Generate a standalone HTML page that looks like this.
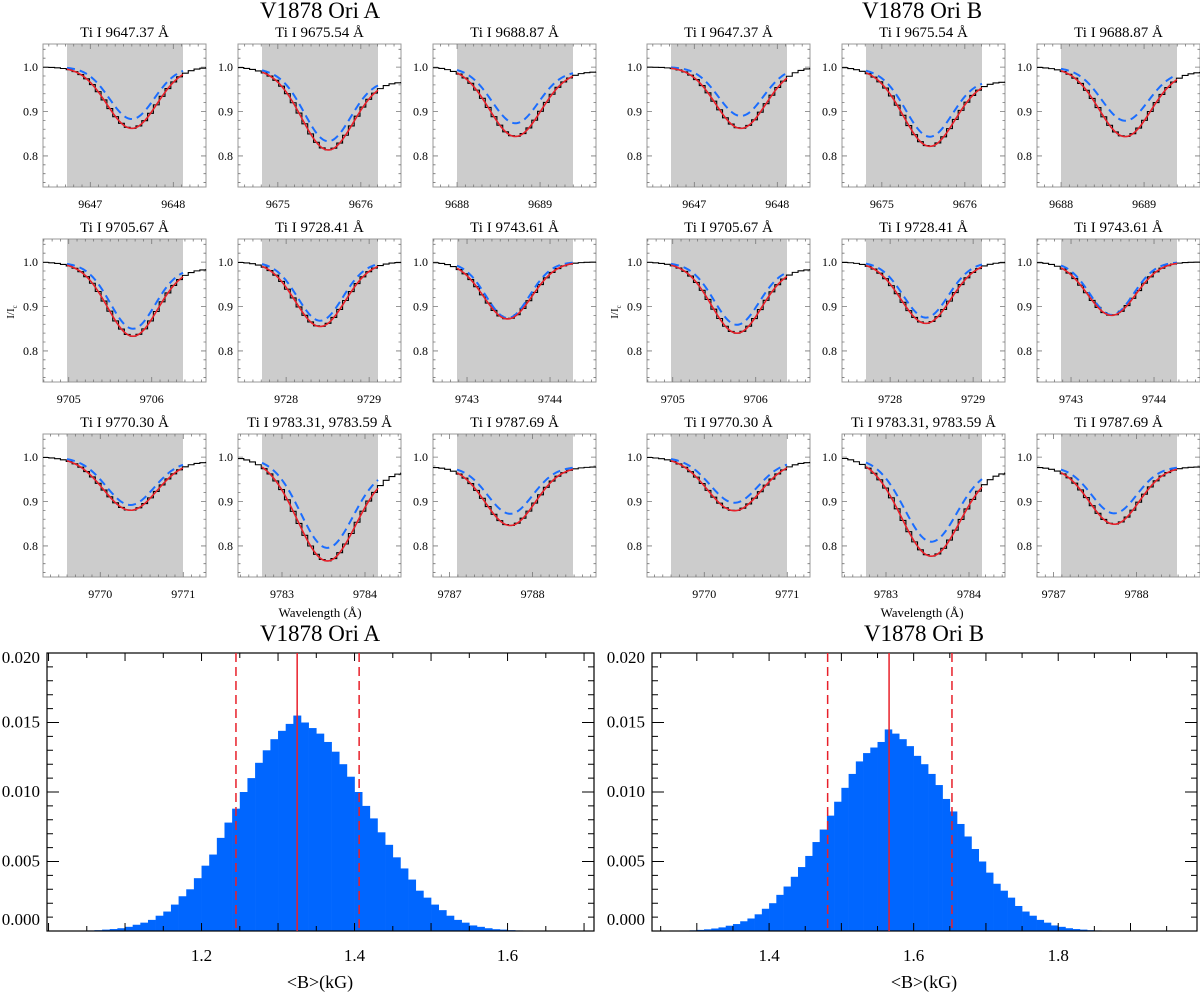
<!DOCTYPE html>
<html><head><meta charset="utf-8"><style>
html,body{margin:0;padding:0;background:#fff}
svg{display:block;font-family:"Liberation Serif",serif}
text{font-family:"Liberation Serif",serif}
</style></head><body>
<svg id="fig" width="1200" height="996" viewBox="0 0 1200 996" xmlns="http://www.w3.org/2000/svg" font-family="Liberation Serif, serif">
<text x="320" y="18" font-size="23" text-anchor="middle">V1878 Ori A</text>
<text x="922" y="18" font-size="23" text-anchor="middle">V1878 Ori B</text>
<text transform="translate(14,312) rotate(-90)" font-size="11" text-anchor="middle">I/I<tspan font-size="7" dy="3">c</tspan></text>
<text transform="translate(618,312) rotate(-90)" font-size="11" text-anchor="middle">I/I<tspan font-size="7" dy="3">c</tspan></text>
<text x="320" y="617" font-size="13" text-anchor="middle">Wavelength (Å)</text>
<text x="922" y="617" font-size="13" text-anchor="middle">Wavelength (Å)</text>
<text x="320" y="641" font-size="23" text-anchor="middle">V1878 Ori A</text>
<text x="924" y="641" font-size="23" text-anchor="middle">V1878 Ori B</text>
<text x="320" y="988" font-size="18" text-anchor="middle">&lt;B&gt;(kG)</text>
<text x="924" y="988" font-size="18" text-anchor="middle">&lt;B&gt;(kG)</text>
</svg>
<script>
// ---- line profile data ----
const lineTitles = ["Ti I 9647.37 Å","Ti I 9675.54 Å","Ti I 9688.87 Å","Ti I 9705.67 Å","Ti I 9728.41 Å","Ti I 9743.61 Å","Ti I 9770.30 Å","Ti I 9783.31, 9783.59 Å","Ti I 9787.69 Å"];
const windowStart = [9646.43,9674.52,9687.71,9704.69,9727.42,9742.59,9769.31,9782.47,9786.80];
const tickLabels = [[9647,9648],[9675,9676],[9688,9689],[9705,9706],[9728,9729],[9743,9744],[9770,9771],[9783,9784],[9787,9788]];
const lineWidth = [0.30,0.31,0.31,0.30,0.30,0.29,0.32,0.35,0.30];
const centerA = [9647.50,9675.60,9688.70,9705.77,9728.41,9743.49,9770.36,9783.54,9787.73];
const centerB = [9647.56,9675.57,9688.77,9705.77,9728.43,9743.49,9770.36,9783.54,9787.73];
const redMinA = [0.862,0.828,0.848,0.840,0.855,0.872,0.885,0.778,0.865];
const blueMinA = [0.883,0.848,0.878,0.857,0.868,0.874,0.897,0.808,0.892];
const redMinB = [0.862,0.836,0.848,0.847,0.862,0.880,0.884,0.789,0.868];
const blueMinB = [0.890,0.858,0.884,0.866,0.875,0.881,0.902,0.822,0.893];
const contLeft = [1.0,1.0,1.0,1.0,1.0,1.0,1.0,1.0,0.978];
const contRight = [1.0,0.968,0.99,0.985,1.0,1.0,0.99,0.972,0.978];
// ---- histogram data ----
const binStartA = 1.05;
const histA = [.00004,.00006,.0001,.00014,.0002,.0003,.00045,.0006,.0008,.0011,.0014,.0019,.0025,.0030,.0038,.0047,.0055,.0067,.0078,.0088,.0100,.0110,.0121,.0130,.0138,.0144,.0149,.0155,.0150,.0146,.0142,.0136,.0129,.0120,.0111,.0100,.0090,.0081,.0071,.0062,.0053,.0045,.0037,.0029,.0024,.0019,.0015,.0011,.0008,.0006,.0004,.0003,.0002,.00013,.0001,.00006,.00004,.00002];
const binStartB = 1.28;
const histB = [.00003,.00005,.00008,.00012,.00018,.00026,.00038,.0005,.0007,.0009,.0012,.0016,.0020,.0026,.0032,.0039,.0046,.0054,.0064,.0073,.0083,.0093,.0103,.0113,.0122,.0128,.0132,.0136,.0145,.0142,.0138,.0133,.0126,.0120,.0113,.0105,.0095,.0086,.0077,.0068,.0059,.0050,.0042,.0034,.0029,.0024,.0018,.0014,.0011,.0008,.0006,.0004,.0003,.0002,.00014,.0001,.00006,.00004,.00002];
const binWidth = 0.01;
const medianA = 1.325, lowA = 1.245, highA = 1.406;
const medianB = 1.566, lowB = 1.481, highB = 1.653;
const histXRangeA = [0.998,1.713], histXRangeB = [1.238,1.992];
const histXTicksA = [1.2,1.4,1.6], histXTicksB = [1.4,1.6,1.8];
const histYTicks = [0,0.005,0.010,0.015,0.020];

const NS="http://www.w3.org/2000/svg";
const svg=document.getElementById('fig');
function mk(tag,attrs,parent){const e=document.createElementNS(NS,tag);for(const k in attrs)e.setAttribute(k,attrs[k]);if(tag==='text')e.setAttribute('font-family','Liberation Serif, serif');(parent||svg).appendChild(e);return e;}

const PW=163,PH=143,PXA=83,YMAX=1.052,YMIN=0.73;
const groupX=[43,647],colStep=195,rowTop=[44,239,434];

function gauss(l,c,s,d){return 1-(1-d)*Math.exp(-((l-c)*(l-c))/(2*s*s));}

for(let g=0;g<2;g++){
  const cen=g?centerB:centerA, rmin=g?redMinB:redMinA, bmin=g?blueMinB:blueMinA;
  for(let i=0;i<9;i++){
    const L=groupX[g]+colStep*(i%3), T=rowTop[Math.floor(i/3)];
    const x0=windowStart[i];
    const xEnd=x0+PW/PXA;
    const X=l=>L+(l-x0)*PXA;
    const Y=v=>T+(YMAX-v)/(YMAX-YMIN)*PH;
    const cont=l=>contLeft[i]+(contRight[i]-contLeft[i])*(l-x0)/(xEnd-x0);
    const pg=mk('g',{});
    
    
    const gs=L+24, ge=L+140;
    const sh=mk('rect',{x:gs,y:T,width:ge-gs,height:PH,fill:'#cccccc'},pg);
    
    
    const box=mk('rect',{x:L,y:T,width:PW,height:PH,fill:'none',stroke:'#999','stroke-width':1},pg);
    
    
    let tk='';
    for(let l=Math.ceil(x0*10)/10;l<=xEnd;l+=0.1){const x=X(l);const maj=Math.abs(l-Math.round(l))<0.01;const len=maj?5:2.5;tk+=`M${x},${T+PH}v${-len}M${x},${T}v${len}`;}
    for(let v=0.74;v<=1.05;v+=0.02){const y=Y(v);const maj=Math.abs(v*10-Math.round(v*10))<0.01;const len=maj?5:2.5;tk+=`M${L},${y}h${len}M${L+PW},${y}h${-len}`;}
    mk('path',{d:tk,stroke:'#777','stroke-width':0.8,fill:'none'},pg);
    [0.8,0.9,1.0].forEach(v=>{const t=mk('text',{x:L-5,y:Y(v)+4,'font-size':12,'text-anchor':'end'},pg);t.textContent=v.toFixed(1);
      
      });
    tickLabels[i].forEach(l=>{const t=mk('text',{x:X(l),y:T+PH+21,'font-size':12,'text-anchor':'middle'},pg);t.textContent=l;
      
      });
    const tt=mk('text',{x:L+PW/2,y:T-7,'font-size':15,'text-anchor':'middle'},pg);tt.textContent=lineTitles[i];
    
    
    const step=0.07;
    let d='';let first=true;
    for(let l=x0;l<xEnd-0.001;l+=step){
      const lm=Math.min(l+step/2,xEnd);
      const v=gauss(lm,cen[i],lineWidth[i],rmin[i])*cont(lm);
      const xa=X(l), xb=X(Math.min(l+step,xEnd));
      d+=(first?'M':'L')+xa+','+Y(v)+'L'+xb+','+Y(v);first=false;
    }
    const obs=mk('path',{d:d,stroke:'#000','stroke-width':1.1,fill:'none'},pg);
    
    
    let db='',dr='';
    for(let x=gs;x<=ge;x+=1){const l=x0+(x-L)/PXA;
      db+=(x===gs?'M':'L')+x+','+Y(gauss(l,cen[i],lineWidth[i]*0.9,bmin[i])*cont(l));
      dr+=(x===gs?'M':'L')+x+','+Y(gauss(l,cen[i],lineWidth[i],rmin[i])*cont(l));}
    const bl=mk('path',{d:db,stroke:'#1a6dff','stroke-width':2,fill:'none','stroke-dasharray':'8,5'},pg);
    
    
    const rl=mk('path',{d:dr,stroke:'#e8202a','stroke-width':1.6,fill:'none'},pg);
    
    
  }
}

function hist(L,R,xr,start,vals,xt,med,lo,hi,name){
  const T=653,B=931;
  const X=v=>L+(v-xr[0])/(xr[1]-xr[0])*(R-L);
  const Y=v=>B-v/0.020*(B-T);
  const g=mk('g',{});
  
  
  vals.forEach((v,k)=>{const a=start+k*binWidth;
    const r=mk('rect',{x:X(a),y:Y(v),width:X(a+binWidth)-X(a)+0.3,height:B-Y(v),fill:'#0066ff'},g);
    
    });
  let tk='';
  for(let v=Math.ceil(xr[0]*20)/20;v<=xr[1];v+=0.05){const x=X(v);const maj=Math.abs(v*10-Math.round(v*10))<0.01;const len=maj?8:5;tk+=`M${x},${B}v${-len}M${x},${T}v${len}`;}
  for(let k=0;k<=20;k++){const y=Y(k*0.001);const len=k%5===0?12:6;tk+=`M${L},${y}h${len}M${R},${y}h${-len}`;}
  mk('path',{d:tk,stroke:'#000','stroke-width':1,fill:'none'},g);
  mk('rect',{x:L,y:T,width:R-L,height:B-T,fill:'none',stroke:'#000','stroke-width':1.2},g);
  const ml=mk('line',{x1:X(med),x2:X(med),y1:T,y2:B,stroke:'#e8202a','stroke-width':1.5},g);
  
  
  [lo,hi].forEach(v=>{const l=mk('line',{x1:X(v),x2:X(v),y1:T,y2:B,stroke:'#e8202a','stroke-width':1.5,'stroke-dasharray':'9,5'},g);
    
    });
  histYTicks.forEach((v,k)=>{const off=k===0?-6:(k===4?10:5);
    const t=mk('text',{x:L-7,y:Y(v)+off,'font-size':17,'text-anchor':'end'},g);t.textContent=v.toFixed(3);
    
    });
  xt.forEach(v=>{const t=mk('text',{x:X(v),y:B+30,'font-size':17,'text-anchor':'middle'},g);t.textContent=v.toFixed(1);
    
    });
}
hist(47,594,histXRangeA,binStartA,histA,histXTicksA,medianA,lowA,highA,'histogram-a');
hist(652,1197,histXRangeB,binStartB,histB,histXTicksB,medianB,lowB,highB,'histogram-b');
</script>
</body></html>
